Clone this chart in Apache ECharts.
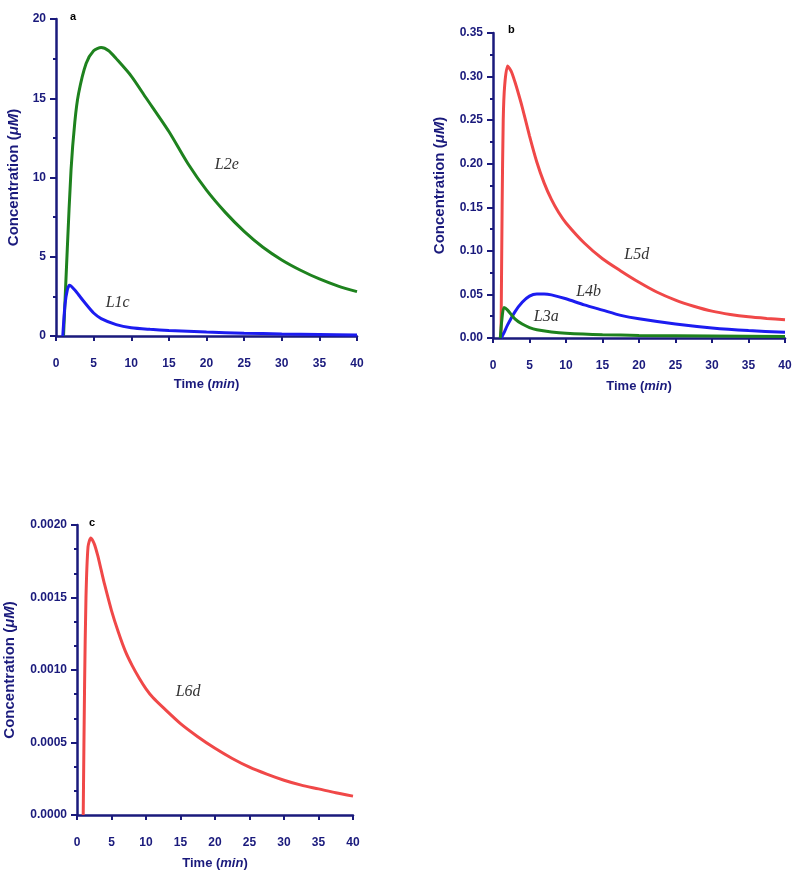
<!DOCTYPE html>
<html>
<head>
<meta charset="utf-8">
<script src="https://cdn.jsdelivr.net/npm/echarts@6/dist/echarts.min.js"></script>
<style>
  html, body { margin: 0; padding: 0; background: #fff; }
  #main { width: 800px; height: 872px; }
</style>
</head>
<body>
<div id="main"></div>
<script>
// 面板 a
var tL2e = [1, 1.5, 2, 2.5, 3, 4, 5, 6, 7, 8, 10, 12, 15, 17.5, 20, 22.5, 25, 27.5, 30, 32.5, 35, 37.5, 40];
var cL2e = [0, 5.5, 10.5, 13.5, 15.3, 17.2, 18.0, 18.2, 18.0, 17.5, 16.4, 15.0, 12.9, 10.9, 9.2, 7.8, 6.6, 5.6, 4.8, 4.15, 3.6, 3.15, 2.8];
var tL1c = [0.9, 1.2, 1.5, 1.8, 2.5, 3, 4, 5, 6, 8, 10, 12.5, 15, 20, 25, 30, 35, 40];
var cL1c = [0, 2.0, 2.9, 3.2, 2.9, 2.6, 2.0, 1.45, 1.1, 0.72, 0.52, 0.42, 0.35, 0.25, 0.18, 0.13, 0.1, 0.07];

// 面板 b
var tL5d = [1.1, 1.25, 1.4, 1.6, 2.0, 2.5, 3, 3.5, 4, 5, 6, 7, 8, 9, 10, 12.5, 15, 17.5, 20, 22.5, 25, 27.5, 30, 32.5, 35, 37.5, 40];
var cL5d = [0, 0.15, 0.25, 0.29, 0.312, 0.306, 0.294, 0.280, 0.265, 0.232, 0.202, 0.178, 0.159, 0.144, 0.132, 0.109, 0.091, 0.077, 0.064, 0.0525, 0.0435, 0.0365, 0.0308, 0.027, 0.0243, 0.0225, 0.021];
var tL4b = [1.15, 1.5, 2, 3, 4, 5, 6, 7, 8, 10, 12.5, 15, 17.5, 20, 25, 30, 35, 40];
var cL4b = [0, 0.006, 0.015, 0.030, 0.041, 0.048, 0.0505, 0.0505, 0.0495, 0.045, 0.038, 0.032, 0.026, 0.022, 0.016, 0.0115, 0.0085, 0.0065];
var tL3a = [1.0, 1.2, 1.5, 2, 3, 4, 5, 6, 8, 10, 15, 20, 30, 40];
var cL3a = [0, 0.02, 0.035, 0.032, 0.022, 0.016, 0.012, 0.0095, 0.007, 0.0055, 0.0038, 0.003, 0.0023, 0.0018];

// 面板 c
var tL6d = [0.9, 1.1, 1.3, 1.6, 2.0, 2.5, 3, 3.5, 4, 5, 6, 7, 8, 9, 10, 11, 12.5, 15, 17.5, 20, 22.5, 25, 27.5, 30, 32.5, 35, 37.5, 40];
var cL6d = [0, 0.0009, 0.0015, 0.00185, 0.00191, 0.00187, 0.00179, 0.00169, 0.00159, 0.00141, 0.00126, 0.00113, 0.00103, 0.000945, 0.00087, 0.00081, 0.00074, 0.00063, 0.00054, 0.00046, 0.00039, 0.00033, 0.000282, 0.00024, 0.000206, 0.00018, 0.000153, 0.00013];

// 曲线标注位置 [t, 浓度]
var notes = {
    L2e: [22.7, 10.8], L1c: [8.2, 2.1],
    L5d: [19.7, 0.0956], L4b: [13.1, 0.053], L3a: [7.3, 0.0245],
    L6d: [16.1, 0.00085]
};

var NAVY = '#1a1a7c';
var GREEN = '#1e821e';
var BLUE = '#1c1cf0';
var RED = '#f04848';

function zip(t, c) {
    var out = [];
    for (var i = 0; i < t.length; i++) out.push([t[i], c[i]]);
    return out;
}

function xAxisOpt(idx) {
    return {
        gridIndex: idx, type: 'value', min: 0, max: 40, interval: 5,
        name: '{n|Time (}{i|min}{n|)}', nameLocation: 'middle', nameGap: 42,
        nameTextStyle: { rich: {
            n: { fontFamily: 'Liberation Sans', fontWeight: 'bold', fontSize: 13, color: NAVY },
            i: { fontFamily: 'Liberation Sans', fontWeight: 'bold', fontStyle: 'italic', fontSize: 13, color: NAVY }
        } },
        axisLine: { lineStyle: { color: NAVY, width: 2.5 } },
        axisTick: { length: 5, lineStyle: { color: NAVY, width: 2 } },
        axisLabel: { margin: 22, color: NAVY, fontWeight: 'bold', fontSize: 12, fontFamily: 'Liberation Sans' },
        splitLine: { show: false }
    };
}

function yAxisOpt(idx, max, interval, decimals, gap, minorSplit) {
    return {
        gridIndex: idx, type: 'value', min: 0, max: max, interval: interval,
        name: '{n|Concentration (}{i|μM}{n|)}', nameLocation: 'middle', nameGap: gap,
        nameTextStyle: { rich: {
            n: { fontFamily: 'Liberation Sans', fontWeight: 'bold', fontSize: 15, color: NAVY },
            i: { fontFamily: 'Liberation Sans', fontWeight: 'bold', fontStyle: 'italic', fontSize: 15, color: NAVY }
        } },
        axisLine: { show: true, lineStyle: { color: NAVY, width: 2.5 } },
        axisTick: { length: 6, lineStyle: { color: NAVY, width: 2 } },
        minorTick: { show: true, splitNumber: minorSplit, length: 3, lineStyle: { color: NAVY, width: 2 } },
        axisLabel: {
            margin: 10, color: NAVY, fontWeight: 'bold', fontSize: 12, fontFamily: 'Liberation Sans',
            formatter: function (v) { return v.toFixed(decimals); }
        },
        splitLine: { show: false }
    };
}

function curve(name, idx, data, color) {
    var n = notes[name];
    return {
        name: name, type: 'line', xAxisIndex: idx, yAxisIndex: idx,
        data: data, smooth: 0.25, showSymbol: false,
        lineStyle: { color: color, width: 3 },
        markPoint: {
            symbol: 'circle', symbolSize: 0, silent: true,
            label: {
                show: true, position: 'inside', formatter: name,
                fontFamily: 'Liberation Serif', fontStyle: 'italic', fontSize: 16, color: '#333'
            },
            data: [{ coord: [n[0], n[1]] }]
        }
    };
}

var option = {
    animation: false,
    backgroundColor: '#fff',
    title: [
        { text: 'a', left: 65, top: 6, textStyle: { fontSize: 11, fontWeight: 'bold', color: '#000', fontFamily: 'Liberation Sans' } },
        { text: 'b', left: 503, top: 19, textStyle: { fontSize: 11, fontWeight: 'bold', color: '#000', fontFamily: 'Liberation Sans' } },
        { text: 'c', left: 84, top: 512, textStyle: { fontSize: 11, fontWeight: 'bold', color: '#000', fontFamily: 'Liberation Sans' } }
    ],
    grid: [
        { left: 56, top: 19, width: 301, height: 317 },
        { left: 493, top: 33, width: 292, height: 305 },
        { left: 77, top: 525, width: 276, height: 290 }
    ],
    xAxis: [xAxisOpt(0), xAxisOpt(1), xAxisOpt(2)],
    yAxis: [
        yAxisOpt(0, 20, 5, 0, 35, 2),
        yAxisOpt(1, 0.35, 0.05, 2, 46, 2),
        yAxisOpt(2, 0.002, 0.0005, 4, 60, 3)
    ],
    series: [
        curve('L2e', 0, zip(tL2e, cL2e), GREEN),
        curve('L1c', 0, zip(tL1c, cL1c), BLUE),
        curve('L5d', 1, zip(tL5d, cL5d), RED),
        curve('L4b', 1, zip(tL4b, cL4b), BLUE),
        curve('L3a', 1, zip(tL3a, cL3a), GREEN),
        curve('L6d', 2, zip(tL6d, cL6d), RED)
    ]
};

var chart = echarts.init(document.getElementById('main'));
chart.setOption(option);
</script>
</body>
</html>
